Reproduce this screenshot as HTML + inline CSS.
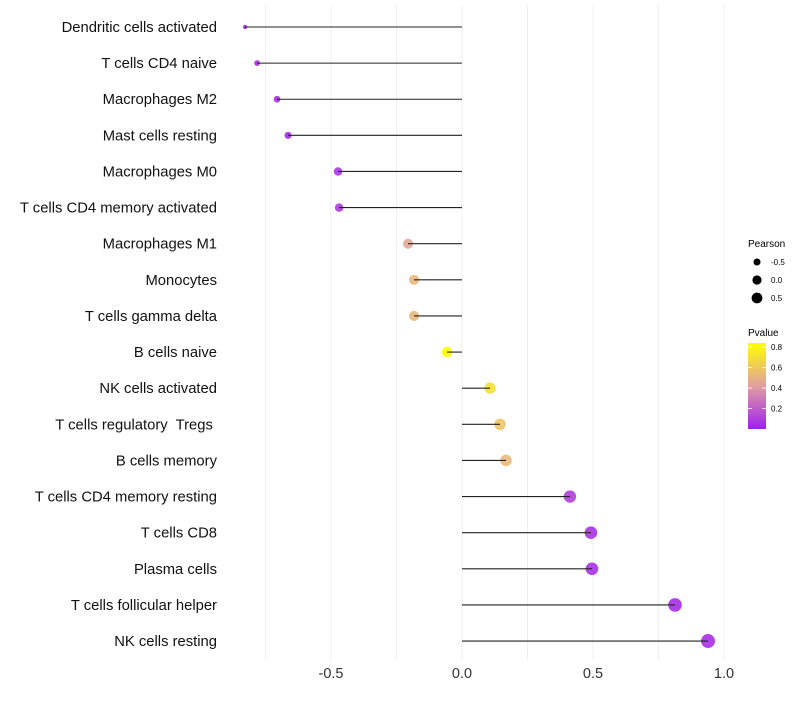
<!DOCTYPE html>
<html><head><meta charset="utf-8"><style>
body{margin:0;background:#fff;font-family:"Liberation Sans",sans-serif}
text{white-space:pre}
</style></head><body>
<svg id="chart" width="800" height="700" xmlns="http://www.w3.org/2000/svg" font-family="Liberation Sans, sans-serif">
<defs><linearGradient id="pg" x1="0" y1="1" x2="0" y2="0">
<stop offset="0" stop-color="#a020f0"/><stop offset="0.5" stop-color="#e0a0a0"/><stop offset="1" stop-color="#ffff00"/></linearGradient></defs>
<g id="grid"></g>
<g id="marks"></g>
<g id="labels"></g>
<g id="xticks"></g>
<g>
<text x="748" y="247" font-size="10">Pearson</text>
<g id="sizeleg"></g>
</g>
<g>
<text x="748" y="336" font-size="10">Pvalue</text>
<rect x="748" y="343" width="18" height="86" fill="url(#pg)"/>
<g id="colleg"></g>
</g>
</svg>
<script>
const categories=["Dendritic cells activated","T cells CD4 naive","Macrophages M2","Mast cells resting","Macrophages M0","T cells CD4 memory activated","Macrophages M1","Monocytes","T cells gamma delta","B cells naive","NK cells activated","T cells regulatory  Tregs ","B cells memory","T cells CD4 memory resting","T cells CD8","Plasma cells","T cells follicular helper","NK cells resting"];
const pearson=[-0.828,-0.782,-0.706,-0.664,-0.473,-0.469,-0.206,-0.183,-0.183,-0.057,0.107,0.145,0.168,0.412,0.492,0.496,0.813,0.939];
const pvalue=[0.02,0.03,0.04,0.03,0.08,0.1,0.45,0.52,0.52,0.84,0.7,0.58,0.55,0.1,0.06,0.06,0.04,0.05];
const xTicks=[-0.5,0,0.5,1.0];
const xTickLabels=["-0.5","0.0","0.5","1.0"];
const gridMinor=[-0.75,-0.25,0.25,0.75];
const sizeLegendVals=[-0.5,0,0.5];
const colorLegendVals=[0.2,0.4,0.6,0.8];

const NS="http://www.w3.org/2000/svg";
function x(v){return 462+v*262;}
function y(i){return 27+i*36.12;}
function r(v){return 2+5*Math.sqrt(Math.max(0,(v+0.83)/1.77));}
function hex(c){return c.map(n=>Math.round(n).toString(16).padStart(2,'0')).join('');}
function col(p){const a=[160,32,240],b=[224,160,160],c=[255,255,0];let t=Math.min(1,Math.max(0,p/0.84));let u,s,e;if(t<0.5){u=t/0.5;s=a;e=b;}else{u=(t-0.5)/0.5;s=b;e=c;}return '#'+hex(s.map((v,k)=>v+(e[k]-v)*u));}
function cy(p){return 429-(p/0.84)*86;}
function el(t,at,parent){const e=document.createElementNS(NS,t);for(const k in at)e.setAttribute(k,at[k]);parent.appendChild(e);return e;}
const G=document.getElementById('grid'),M=document.getElementById('marks'),L=document.getElementById('labels'),X=document.getElementById('xticks');
gridMinor.concat(xTicks).forEach(v=>{const g=el('line',{x1:x(v),x2:x(v),y1:5,y2:660,stroke:'#f0f0f0','stroke-width':1},G);

});
xTicks.forEach((v,i)=>{const t=el('text',{x:x(v),y:678,'font-size':14.5,'text-anchor':'middle',fill:'#333'},X);t.textContent=xTickLabels[i];

});
categories.forEach((c,i)=>{
const t=el('text',{x:217,y:y(i)+5,'font-size':14.8,'text-anchor':'end',fill:'#111'},L);t.textContent=c;


const p=el('circle',{cx:x(pearson[i]),cy:y(i),r:r(pearson[i]),fill:col(pvalue[i]),'fill-opacity':0.9},M);


const s=el('line',{x1:x(0),x2:x(pearson[i]),y1:y(i),y2:y(i),stroke:'#222','stroke-width':1.1},M);


});
const S=document.getElementById('sizeleg');
sizeLegendVals.forEach((v,i)=>{const cyy=262+i*18;
const c=el('circle',{cx:757,cy:cyy,r:r(v)*0.85,fill:'#000'},S);


const t=el('text',{x:771,y:cyy+3,'font-size':8},S);t.textContent=v===0?'0.0':String(v);

});
const C=document.getElementById('colleg');
colorLegendVals.forEach(v=>{const yy=cy(v);
el('line',{x1:748,x2:752,y1:yy,y2:yy,stroke:'#fff','stroke-width':0.8},C);
el('line',{x1:762,x2:766,y1:yy,y2:yy,stroke:'#fff','stroke-width':0.8},C);
const t=el('text',{x:771,y:yy+3,'font-size':8},C);t.textContent=v.toFixed(1);

});
</script>
</body></html>
